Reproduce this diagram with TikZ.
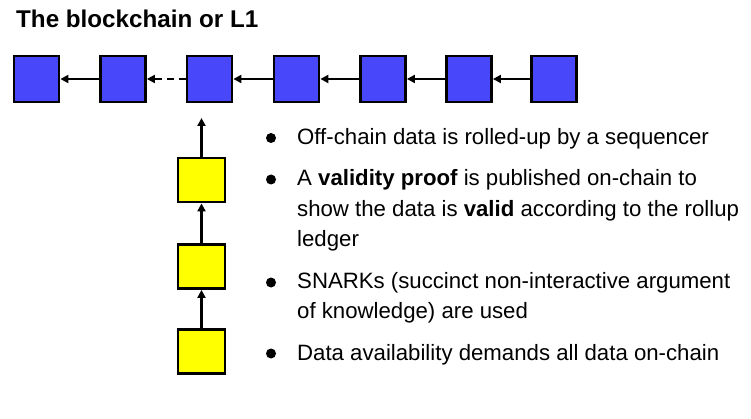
\documentclass[tikz,border=0pt]{standalone}
\usepackage{fontspec}
\setmainfont{Liberation Sans}
\usetikzlibrary{arrows.meta}
\definecolor{blockblue}{RGB}{72,72,250}
\definecolor{blockyellow}{RGB}{255,255,0}
\tikzset{
  l1box/.style={draw=black, line width=2.8pt, fill=blockblue, minimum width=45pt, minimum height=46pt, inner sep=0pt},
  l2box/.style={draw=black, line width=2.8pt, fill=blockyellow, minimum width=47pt, minimum height=44pt, inner sep=0pt},
  link/.style={line width=2.4pt, -{Triangle[length=8pt,width=8pt]}},
  bullet/.style={circle, fill=black, inner sep=0pt, minimum size=10pt},
  btext/.style={anchor=base west, font=\fontsize{22.2}{30}\selectfont, inner sep=0pt},
}
\begin{document}
\begin{tikzpicture}[x=1pt,y=-1pt]
\useasboundingbox (0,0) rectangle (751,419);
\node[anchor=base west, font=\fontsize{24.2}{26}\selectfont\bfseries, inner sep=0pt] (title) at (16,28) {The blockchain or L1};
\foreach \i/\x in {1/36.5,2/123,3/209.5,4/296.5,5/383,6/469,7/554}
  \node[l1box] (b\i) at (\x,79) {};
\draw[link] (b2) -- (b1);
\draw[link, dashed, dash pattern=on 7pt off 5pt] (b3) -- (b2);
\draw[link] (b4) -- (b3);
\draw[link] (b5) -- (b4);
\draw[link] (b6) -- (b5);
\draw[link] (b7) -- (b6);
\node[l2box] (y1) at (201.5,180) {};
\node[l2box] (y2) at (201.5,266.5) {};
\node[l2box] (y3) at (201.5,351.5) {};
\coordinate (top) at (201.5,118);
\draw[link] (y3) -- (y2);
\draw[link] (y2) -- (y1);
\draw[link] (y1.north) -- (top);
\node[bullet] (d1) at (271,138) {};
\node[btext] (t1) at (297,145) {Off-chain data is rolled-up by a sequencer};
\node[bullet] (d2) at (271,179.5) {};
\node[btext] (t2a) at (297,186) {A \textbf{validity proof} is published on-chain to};
\node[btext] (t2b) at (297,216.5) {show the data is \textbf{valid} according to the rollup};
\node[btext] (t2c) at (297,247) {ledger};
\node[bullet] (d3) at (271,282.5) {};
\node[btext] (t3a) at (297,288.5) {SNARKs (succinct non-interactive argument};
\node[btext] (t3b) at (297,318.5) {of knowledge) are used};
\node[bullet] (d4) at (271,353.5) {};
\node[btext] (t4) at (297,360.5) {Data availability demands all data on-chain};
\end{tikzpicture}
\end{document}
